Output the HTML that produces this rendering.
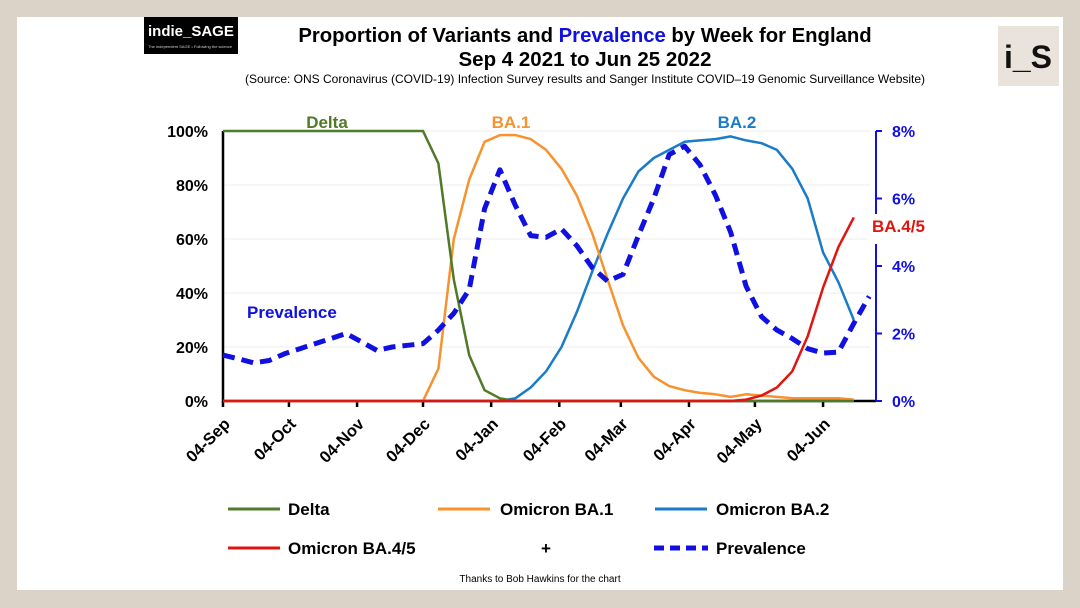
<!DOCTYPE html>
<html><head><meta charset="utf-8"><style>
body{margin:0;width:1080px;height:608px;background:#dcd3c8;font-family:"Liberation Sans",sans-serif;overflow:hidden}
#panel{position:absolute;left:17px;top:17px;width:1046px;height:573px;background:#fff}
svg{position:absolute;left:0;top:0}
</style></head><body>
<div id="panel"></div>
<svg id="chart" width="1080" height="608">
<rect x="144" y="17" width="94" height="37" fill="#000"/>
<text x="148" y="36" fill="#fff" font-size="15" font-weight="bold">indie_SAGE</text>
<text x="148" y="48" fill="#ccc" font-size="4">The independent SAGE • Following the science</text>
<rect x="998" y="26" width="61" height="60" fill="#e9e3dc"/>
<text x="1028" y="68" font-size="32" font-weight="bold" text-anchor="middle" fill="#111">i_S</text>
<text x="585" y="42" font-size="20.3" font-weight="bold" text-anchor="middle">Proportion of Variants and <tspan fill="#1010e0">Prevalence</tspan> by Week for England</text>
<text x="585" y="66" font-size="20.5" font-weight="bold" text-anchor="middle">Sep 4 2021 to Jun 25 2022</text>
<text x="585" y="83" font-size="12" text-anchor="middle">(Source: ONS Coronavirus (COVID-19) Infection Survey results and Sanger Institute COVID–19 Genomic Surveillance Website)</text>
<g id="grid"></g><g id="axes"></g><g id="series"></g>
<text x="327" y="128" font-size="17" font-weight="bold" fill="#4f7a28" text-anchor="middle">Delta</text>
<text x="511" y="128" font-size="17" font-weight="bold" fill="#f7922e" text-anchor="middle">BA.1</text>
<text x="737" y="128" font-size="17" font-weight="bold" fill="#1a7cc8" text-anchor="middle">BA.2</text>
<rect x="868" y="214" width="70" height="30" fill="#fff"/>
<text x="872" y="232" font-size="17" font-weight="bold" fill="#e0150f">BA.4/5</text>
<text x="247" y="318" font-size="17" font-weight="bold" fill="#1010e0">Prevalence</text>
<g id="legend" font-size="17" font-weight="bold">
<line x1="228" y1="509" x2="280" y2="509" stroke="#4f7a28" stroke-width="3"/>
<text x="288" y="515">Delta</text>
<line x1="438" y1="509" x2="490" y2="509" stroke="#f7922e" stroke-width="3"/>
<text x="500" y="515">Omicron BA.1</text>
<line x1="655" y1="509" x2="707" y2="509" stroke="#1a7cc8" stroke-width="3"/>
<text x="716" y="515">Omicron BA.2</text>
<line x1="228" y1="548" x2="280" y2="548" stroke="#e0150f" stroke-width="3"/>
<text x="288" y="554">Omicron BA.4/5</text>
<text x="546" y="554" text-anchor="middle">+</text>
<line x1="654" y1="548" x2="708" y2="548" stroke="#1010e0" stroke-width="5" stroke-dasharray="10,6"/>
<text x="716" y="554">Prevalence</text>
</g>
<text x="540" y="582" font-size="10" text-anchor="middle">Thanks to Bob Hawkins for the chart</text>
</svg>
<script>
const delta=[100,100,100,100,100,100,100,100,100,100,100,100,100,100,88,45,17,4,1,0,0,0,0,0,0,0,0,0,0,0,0,0,0,0,0,0,0,0,0,0,0,0];
const ba1=[0,0,0,0,0,0,0,0,0,0,0,0,0,0,12,60,82,96,98.5,98.5,97,93,86,76,62,45,28,16,9,5.5,4,3,2.5,1.5,2.5,2,1.5,1,1,1,1,0.5];
const ba2=[0,0,0,0,0,0,0,0,0,0,0,0,0,0,0,0,0,0,0,1,5,11,20,33,48,62,75,85,90,93,96,96.5,97,98,96.5,95.5,93,86,75,55,44,30];
const ba45=[0,0,0,0,0,0,0,0,0,0,0,0,0,0,0,0,0,0,0,0,0,0,0,0,0,0,0,0,0,0,0,0,0,0,0.5,2,5,11,24,42,57,68];
const prevalence=[1.36,1.25,1.13,1.2,1.4,1.55,1.7,1.85,2.0,1.75,1.5,1.6,1.65,1.7,2.1,2.6,3.3,5.7,6.85,5.8,4.9,4.85,5.1,4.6,3.95,3.55,3.75,4.9,6.0,7.3,7.55,7.0,6.1,5.0,3.4,2.5,2.1,1.85,1.55,1.42,1.45,2.3,3.1];
const monthLabels=["04-Sep","04-Oct","04-Nov","04-Dec","04-Jan","04-Feb","04-Mar","04-Apr","04-May","04-Jun"];
const monthDays=[0,30,61,91,122,153,181,212,242,273];
const leftTicks=[0,20,40,60,80,100];
const rightTicks=[0,2,4,6,8];
const X0=223,PXD=2.198,Y0=401,YT=131;
const xDay=d=>X0+d*PXD, xW=w=>xDay(w*7);
const yL=v=>Y0-(v/100)*(Y0-YT), yR=v=>Y0-(v/8)*(Y0-YT);
const NS="http://www.w3.org/2000/svg";
function mk(tag,attrs,parent,txt){const e=document.createElementNS(NS,tag);for(const k in attrs)e.setAttribute(k,attrs[k]);if(txt!==undefined)e.textContent=txt;document.getElementById(parent).appendChild(e);return e;}
leftTicks.forEach(t=>{
 if(t>0){const g=mk('line',{x1:X0,x2:870,y1:yL(t),y2:yL(t),stroke:'#eeeeee','stroke-width':1},'grid');
 
 }
 const l=mk('text',{x:208,y:yL(t)+6,'font-size':16,'font-weight':'bold','text-anchor':'end'},'axes',t+'%');
 
 
});
function line(arr,sc,color,w,name,dash){
 const d=arr.map((v,i)=>(i?'L':'M')+xW(i).toFixed(1)+','+sc(v).toFixed(1)).join(' ');
 const p=mk('path',{d:d,fill:'none',stroke:color,'stroke-width':w,'stroke-linejoin':'round'},'series');
 if(dash)p.setAttribute('stroke-dasharray',dash);
 
 
}
const ax=mk('path',{d:`M${X0},${YT} L${X0},${Y0} L876,${Y0}`,fill:'none',stroke:'#000','stroke-width':2.5},'axes');


monthLabels.forEach((m,i)=>{
 const x=xDay(monthDays[i]);
 const tk=mk('line',{x1:x,x2:x,y1:Y0,y2:Y0+6,stroke:'#000','stroke-width':2.5},'axes');
 
 
 const t=mk('text',{x:x+8,y:Y0+24,'font-size':16.5,'font-weight':'bold','text-anchor':'end',transform:`rotate(-45 ${x+8} ${Y0+24})`},'axes',m);
 
 
});
const ra=mk('line',{x1:876,x2:876,y1:YT,y2:Y0,stroke:'#1010e0','stroke-width':2},'axes');


rightTicks.forEach(t=>{
 const tk=mk('line',{x1:876,x2:882,y1:yR(t),y2:yR(t),stroke:'#1010e0','stroke-width':2},'axes');
 
 
 const l=mk('text',{x:892,y:yR(t)+6,'font-size':16,'font-weight':'bold',fill:'#1010e0'},'axes',t+'%');
 
 
});
line(ba2,yL,'#1a7cc8',2.5,'ba2-line');
line(ba1,yL,'#f7922e',2.5,'ba1-line');
line(delta,yL,'#4f7a28',2.5,'delta-line');
line(ba45,yL,'#e0150f',2.5,'ba45-line');
line(prevalence,yR,'#1010e0',5,'prevalence-line','12,7');
</script>
</body></html>
